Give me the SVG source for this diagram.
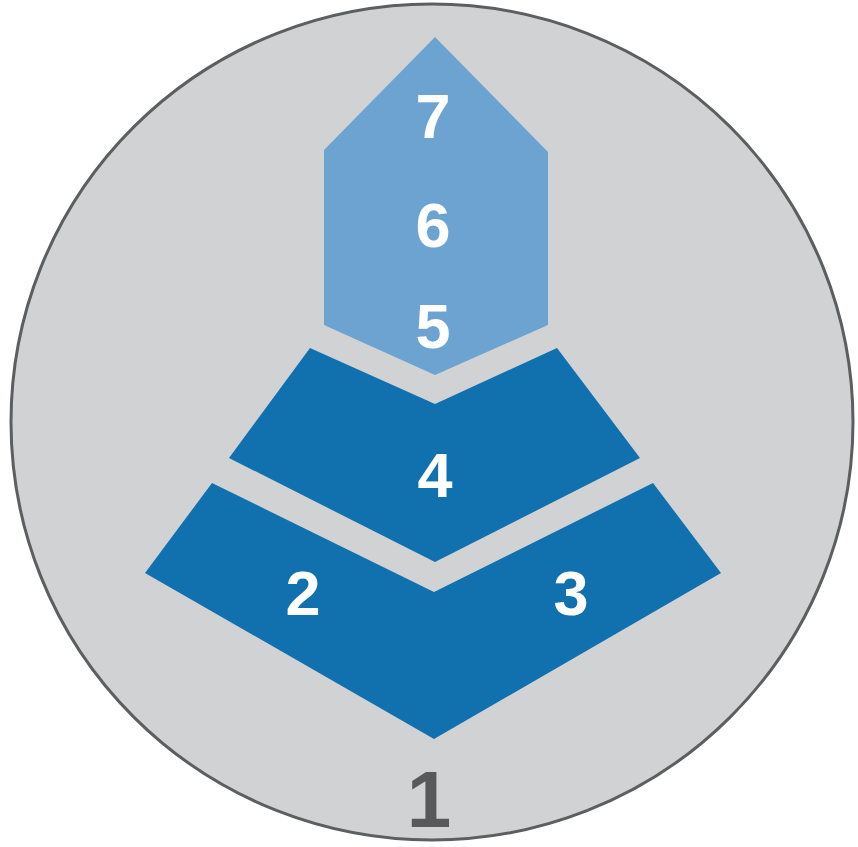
<svg xmlns="http://www.w3.org/2000/svg" width="858" height="847" viewBox="0 0 858 847">
<style>
.light{fill:#6ca3d1}
.dark{fill:#1170ae}
.num{font-family:"Liberation Sans",Arial,sans-serif;font-weight:bold;font-size:63px;fill:#ffffff;text-anchor:middle}
.base{font-family:"Liberation Sans",Arial,sans-serif;font-weight:bold;font-size:80px;fill:#58595b;text-anchor:middle}
</style>
<rect width="858" height="847" fill="#ffffff"/>
<g id="node-1">
<ellipse cx="432" cy="422" rx="421" ry="418" fill="#d1d2d4" stroke="#5d5e60" stroke-width="3"/>
<text class="base" x="429" y="827">1</text>
</g>
<g id="node-2-3">
<polygon class="dark" points="212,483 434,592 653,483 721,573 434,739 145,573"/>
<text class="num" x="303" y="615">2</text>
<text class="num" x="571" y="615">3</text>
</g>
<g id="node-4">
<polygon class="dark" points="310,348 435,404 557,348 640,458 435,562 229,458"/>
<text class="num" x="435" y="497">4</text>
</g>
<g id="node-5-6-7">
<polygon class="light" points="435,37 548,152 548,325 435,375 324,325 324,150"/>
<text class="num" x="433" y="138">7</text>
<text class="num" x="433" y="247">6</text>
<text class="num" x="433" y="348">5</text>
</g>
<g id="connectors"></g>
</svg>
